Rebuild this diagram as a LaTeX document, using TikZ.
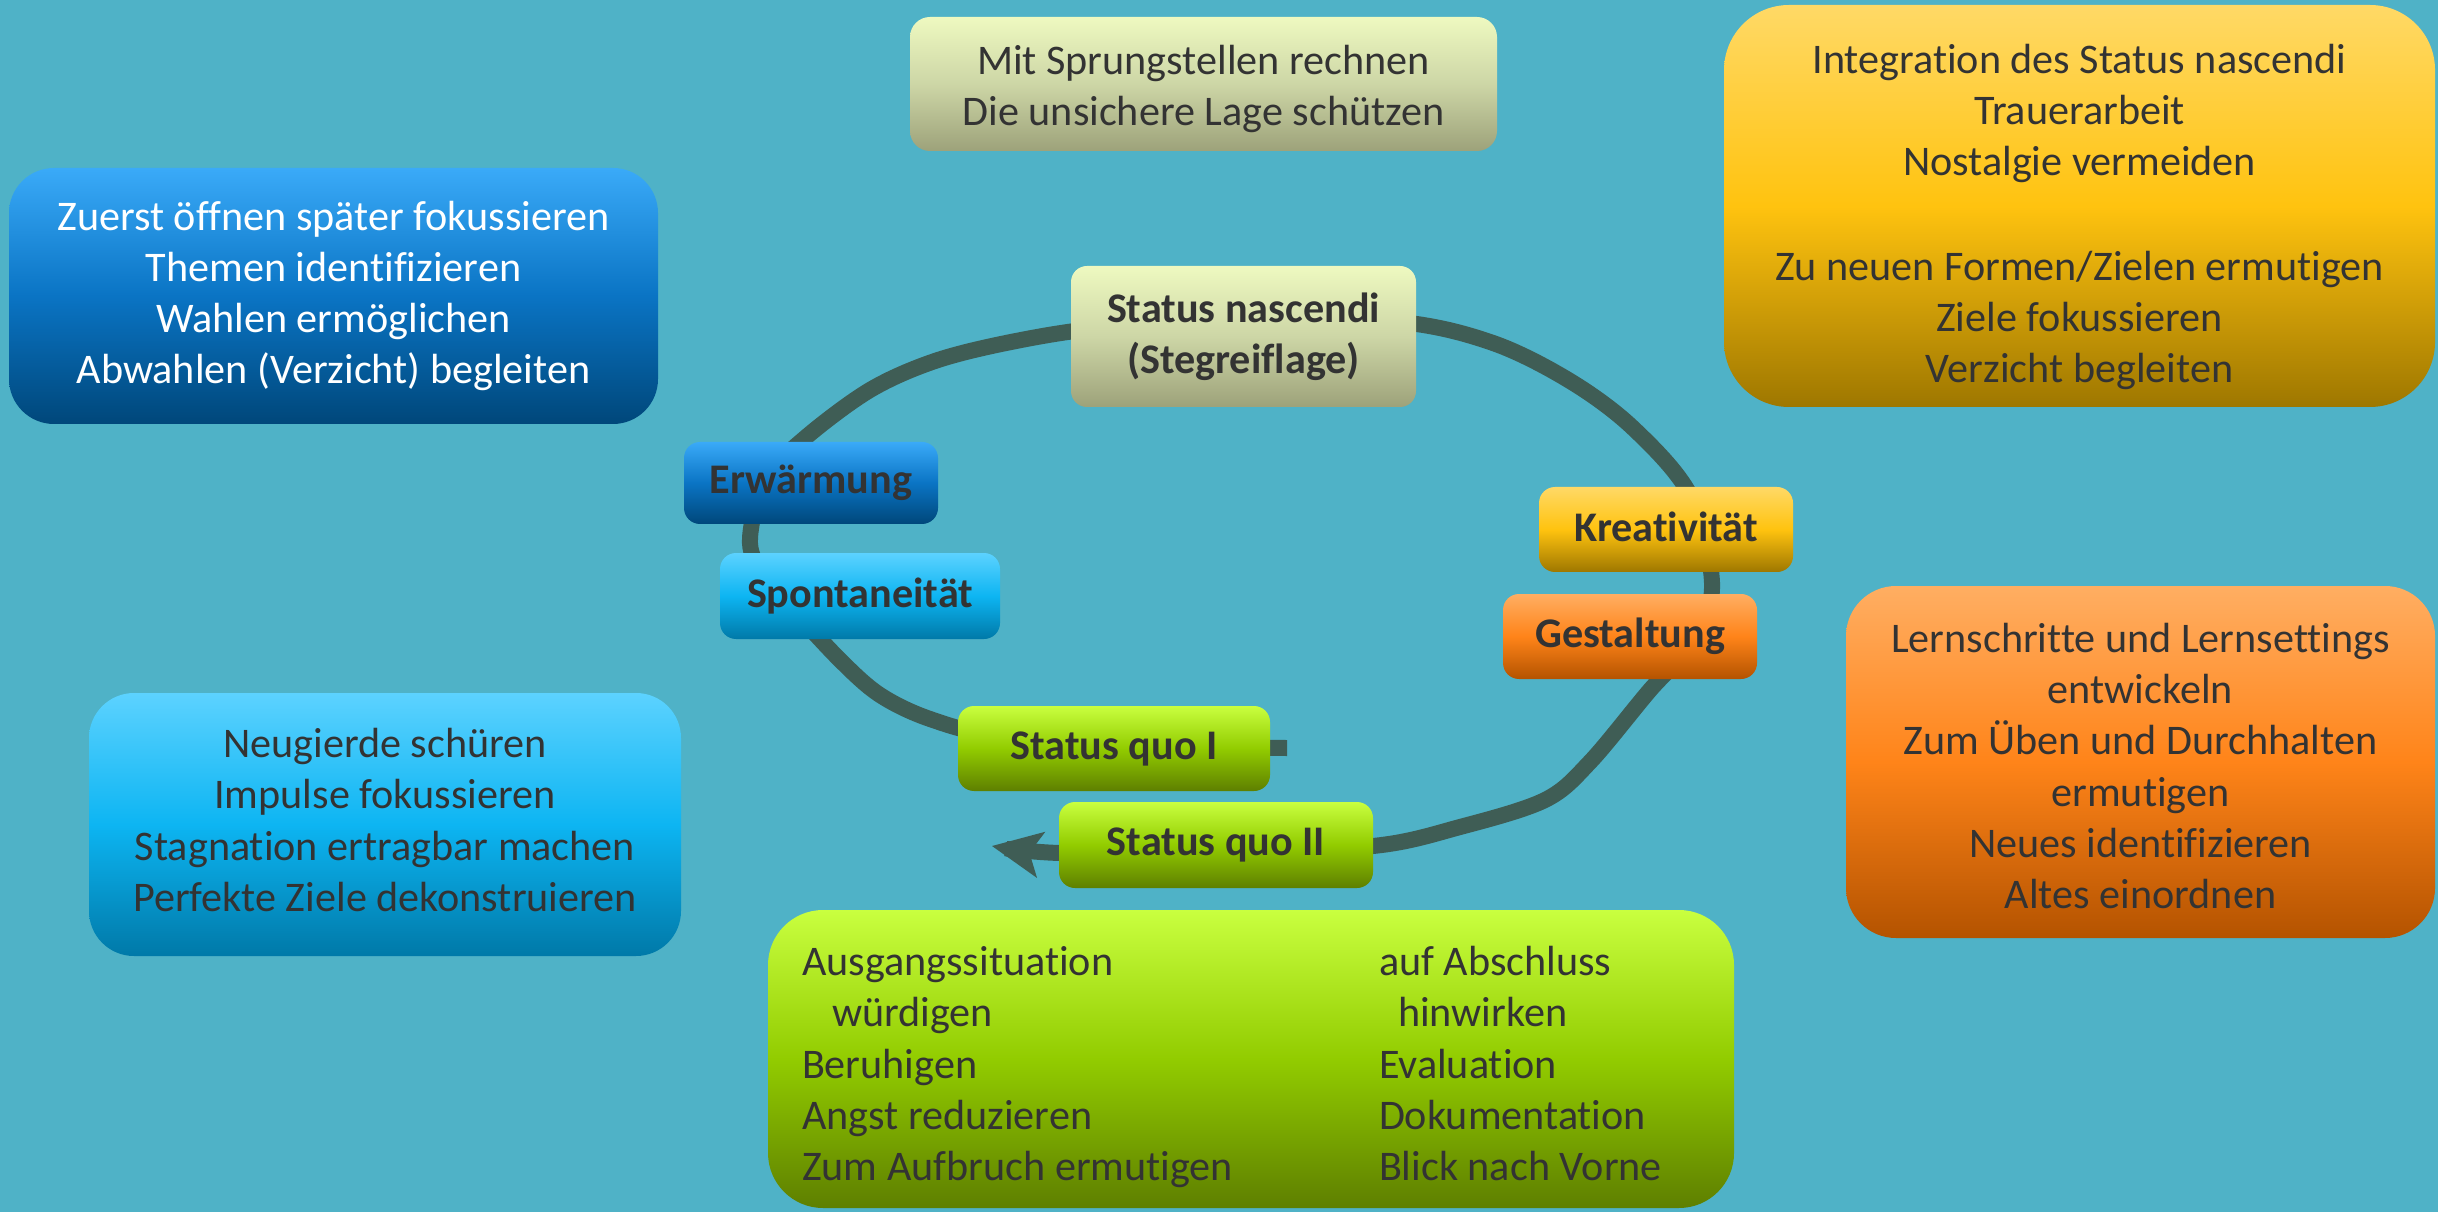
\documentclass[tikz,border=0pt]{standalone}
\usepackage{fontspec}
\setmainfont{Carlito}[Ligatures=NoCommon]
\usetikzlibrary{arrows.meta}

\definecolor{bg}{HTML}{4FB2C7}
\definecolor{loopc}{HTML}{3F5D55}
\definecolor{ink}{HTML}{333333}
\definecolor{oliveT}{HTML}{EEF9C0}
\definecolor{oliveM}{HTML}{CDD6A6}
\definecolor{oliveB}{HTML}{9DA27A}
\definecolor{navyT}{HTML}{3AAAF8}
\definecolor{navyM}{HTML}{0A74C4}
\definecolor{navyB}{HTML}{00477A}
\definecolor{skyT}{HTML}{5CD2FF}
\definecolor{skyM}{HTML}{0DB5F2}
\definecolor{skyB}{HTML}{0079A8}
\definecolor{goldT}{HTML}{FFD966}
\definecolor{goldM}{HTML}{FFC30F}
\definecolor{goldB}{HTML}{9E7700}
\definecolor{tangT}{HTML}{FFAE62}
\definecolor{tangM}{HTML}{FF8419}
\definecolor{tangB}{HTML}{B45300}
\definecolor{limeT}{HTML}{C9FF3F}
\definecolor{limeM}{HTML}{92CC00}
\definecolor{limeB}{HTML}{5E7F00}

\begin{document}
\begin{tikzpicture}[x=0.1mm, y=-0.1mm,
  every node/.style={inner sep=0pt, outer sep=0pt, align=center, text=ink,
    font=\fontsize{12}{14.6}\selectfont},
  olive/.style={top color=oliveT, bottom color=oliveB, middle color=oliveM},
  navy/.style={top color=navyT, bottom color=navyB, middle color=navyM},
  sky/.style={top color=skyT, bottom color=skyB, middle color=skyM},
  gold/.style={top color=goldT, bottom color=goldB, middle color=goldM},
  tang/.style={top color=tangT, bottom color=tangB, middle color=tangM},
  lime/.style={top color=limeT, bottom color=limeB, middle color=limeM},
  panel/.style={rounded corners=4.5mm},
  stage/.style={rounded corners=1.6mm,
    font=\fontsize{12}{14.6}\selectfont\bfseries},
  cyclepath/.style={draw=loopc, line width=1.6mm, line cap=butt,
    -{Stealth[length=5mm, width=4.7mm, inset=1.2mm, line width=0pt]}}
]

% canvas
\fill[bg] (0,0) rectangle (2438,1212);
\useasboundingbox (0,0) rectangle (2438,1212);

% the cycle line, running behind the stage boxes
\draw[cyclepath] plot[smooth, tension=0.55] coordinates {
  (1287,748) (1150,746) (1000,736) (930,719) (880,695) (840,660)
  (790,606) (760,570) (750,538) (765,480) (805,438) (870,390)
  (935,361) (1011,342) (1100,328) (1243,318) (1400,322) (1493,343)
  (1570,381) (1633,428) (1690,495) (1712,583) (1695,640) (1650,690)
  (1590,762) (1545,800) (1460,827) (1373,846) (1216,852) (1060,853)
  (992,846)};

% stages of the cycle
\node[stage, olive, minimum width=34.5mm, minimum height=14.1mm]
  (nascendi) at (1243.5,336.5) {Status nascendi\\(Stegreiflage)};
\node[stage, navy, minimum width=25.4mm, minimum height=8.2mm]
  (warm) at (811,483) {Erwärmung};
\node[stage, sky, minimum width=28mm, minimum height=8.6mm]
  (spont) at (860,596) {Spontaneität};
\node[stage, gold, minimum width=25.4mm, minimum height=8.5mm]
  (kreat) at (1666,529.5) {\raisebox{0.6mm}{Kreativität}};
\node[stage, tang, minimum width=25.4mm, minimum height=8.5mm]
  (gest) at (1630,636.5) {Gestaltung};
\node[stage, lime, minimum width=31.2mm, minimum height=8.5mm]
  (quoI) at (1114,748.5) {Status quo I};
\node[stage, lime, minimum width=31.4mm, minimum height=8.6mm]
  (quoII) at (1216,845) {Status quo II};

% guidance panels
\node[olive, rounded corners=2mm, minimum width=58.7mm, minimum height=13.4mm]
  (sprung) at (1203.5,84) {};
\node (sprungtxt) at (1203.5,89)
  {Mit Sprungstellen rechnen\\Die unsichere Lage schützen};

\node[panel, navy, minimum width=64.9mm, minimum height=25.6mm]
  (open) at (333.5,296) {};
\node[text=white] (opentxt) at (333.5,296)
  {Zuerst öffnen später fokussieren\\Themen identifizieren\\Wahlen ermöglichen\\Abwahlen (Verzicht) begleiten};

\node[panel, gold, rounded corners=6.5mm, minimum width=71.1mm, minimum height=40.2mm]
  (integ) at (2079.5,206) {};
\node (integtxt) at (2079.5,217)
  {Integration des Status nascendi\\Trauerarbeit\\Nostalgie vermeiden\\[15pt]Zu neuen Formen/Zielen ermutigen\\Ziele fokussieren\\Verzicht begleiten};

\node[panel, sky, minimum width=59.2mm, minimum height=26.3mm]
  (curious) at (385,824.5) {};
\node (curioustxt) at (385,820)
  {Neugierde schüren\\Impulse fokussieren\\Stagnation ertragbar machen\\Perfekte Ziele dekonstruieren};

\node[panel, tang, rounded corners=5mm, minimum width=58.9mm, minimum height=35.2mm]
  (learn) at (2140.5,762) {};
\node (learntxt) at (2140.5,766)
  {Lernschritte und Lernsettings\\entwickeln\\Zum Üben und Durchhalten\\ermutigen\\Neues identifizieren\\Altes einordnen};

\node[panel, lime, rounded corners=5.5mm, minimum width=96.6mm, minimum height=29.8mm]
  (start) at (1251,1059) {};
\node[anchor=west, align=left] (starttxt) at (802,1067)
  {\makebox[57.7mm][l]{Ausgangssituation}auf Abschluss\\
   \makebox[57.7mm][l]{\hspace{3mm}würdigen}\hspace{1.9mm}hinwirken\\
   \makebox[57.7mm][l]{Beruhigen}Evaluation\\
   \makebox[57.7mm][l]{Angst reduzieren}Dokumentation\\
   \makebox[57.7mm][l]{Zum Aufbruch ermutigen}Blick nach Vorne};

\end{tikzpicture}
\end{document}
